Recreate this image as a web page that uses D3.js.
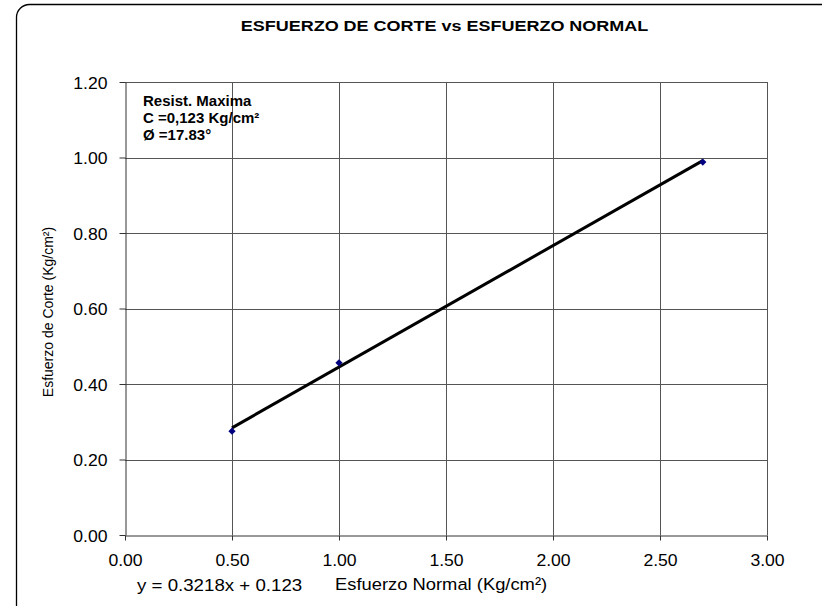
<!DOCTYPE html>
<meta charset="utf-8">
<style>
  body { margin: 0; background: #fff; }
  text { font-family: "Liberation Sans", Arial, sans-serif; fill: #000; }
</style>
<script src="https://d3js.org/d3.v7.min.js"></script>
<svg width="822" height="606"></svg>
<script>
  // data
  var normal = [0.5, 1.0, 2.7];          // Esfuerzo Normal (Kg/cm²)
  var corte = [0.275, 0.456, 0.988];     // Esfuerzo de Corte (Kg/cm²)
  var slope = 0.3218, intercept = 0.123; // trend line y = 0.3218x + 0.123
  var xTicks = [0, 0.5, 1, 1.5, 2, 2.5, 3];
  var yTicks = [0, 0.2, 0.4, 0.6, 0.8, 1.0, 1.2];
  var notes = ["Resist. Maxima", "C =0,123 Kg/cm²", "Ø =17.83°"];

  var svg = d3.select("svg");

  var x = d3.scaleLinear().domain([0, 3]).range([125, 767]);
  var y = d3.scaleLinear().domain([0, 1.2]).range([535, 82]);

  // outer rounded frame
  svg.append("rect")
    .attr("x", 16.5).attr("y", 4.5)
    .attr("width", 830).attr("height", 620)
    .attr("rx", 13)
    .attr("fill", "#fff")
    .attr("stroke", "#000")
    .attr("stroke-width", 1.3);

  // text helper, the picture is a bit stretched sideways
  function label(px, py, str, size, sx, opts) {
    opts = opts || {};
    return svg.append("text")
      .attr("transform", "translate(" + px + "," + py + ") scale(" + sx + ",1)")
      .attr("text-anchor", opts.anchor || "start")
      .style("font-size", size + "px")
      .style("font-weight", opts.bold ? "bold" : "normal")
      .text(str);
  }

  label(444.5, 31, "ESFUERZO DE CORTE vs ESFUERZO NORMAL", 15, 1.2, {anchor: "middle", bold: true});

  // grid
  var grid = svg.append("g").attr("stroke", "#555").attr("stroke-width", 1);
  grid.selectAll(".h").data(yTicks.slice(1)).enter().append("line")
    .attr("x1", x(0)).attr("x2", x(3))
    .attr("y1", function(d) { return Math.round(y(d)) + 0.5; })
    .attr("y2", function(d) { return Math.round(y(d)) + 0.5; });
  grid.selectAll(".v").data(xTicks.slice(1)).enter().append("line")
    .attr("y1", y(0)).attr("y2", y(1.2))
    .attr("x1", function(d) { return Math.round(x(d)) + 0.5; })
    .attr("x2", function(d) { return Math.round(x(d)) + 0.5; });

  // axes
  var yAxis = svg.append("g")
    .attr("transform", "translate(" + (x(0) + 0.5) + ",0)")
    .call(d3.axisLeft(y).tickValues(yTicks).tickFormat(d3.format(".2f")).tickSize(6).tickSizeOuter(0));
  yAxis.selectAll("text")
    .attr("x", null).attr("dy", null)
    .attr("transform", "translate(-18,6) scale(1.1,1)")
    .style("font-size", "16px")
    .style("font-family", "Liberation Sans, Arial, sans-serif");

  var xAxis = svg.append("g")
    .attr("transform", "translate(0," + (y(0) + 0.5) + ")")
    .call(d3.axisBottom(x).tickValues(xTicks).tickFormat(d3.format(".2f")).tickSize(5).tickSizeOuter(0));
  xAxis.selectAll("text")
    .attr("y", null).attr("dy", null)
    .attr("transform", "translate(0,30) scale(1.1,1)")
    .style("font-size", "16px")
    .style("font-family", "Liberation Sans, Arial, sans-serif");

  svg.selectAll(".domain, .tick line").attr("stroke", "#333");

  // trend line
  var xs = d3.extent(normal);
  svg.append("line")
    .attr("x1", x(xs[0])).attr("y1", y(slope * xs[0] + intercept))
    .attr("x2", x(xs[1])).attr("y2", y(slope * xs[1] + intercept))
    .attr("stroke", "#000")
    .attr("stroke-width", 3);

  // data points (diamonds)
  var diamond = d3.symbol().type(d3.symbolSquare).size(26);
  svg.selectAll(".pt").data(normal).enter().append("path")
    .attr("d", diamond)
    .attr("transform", function(d, i) {
      return "translate(" + x(d) + "," + y(corte[i]) + ") rotate(45)";
    })
    .attr("fill", "#000080");

  // annotation
  notes.forEach(function(t, i) {
    label(143, 105.5 + i * 17, t, 15, 1.0, {bold: true});
  });

  // axis titles and equation
  label(137, 591, "y = 0.3218x + 0.123", 17, 1.1);
  label(335, 590, "Esfuerzo Normal (Kg/cm²)", 17, 1.08);
  svg.append("text")
    .attr("transform", "translate(53,312) rotate(-90)")
    .attr("text-anchor", "middle")
    .style("font-size", "14px")
    .text("Esfuerzo de Corte (Kg/cm²)");
</script>
